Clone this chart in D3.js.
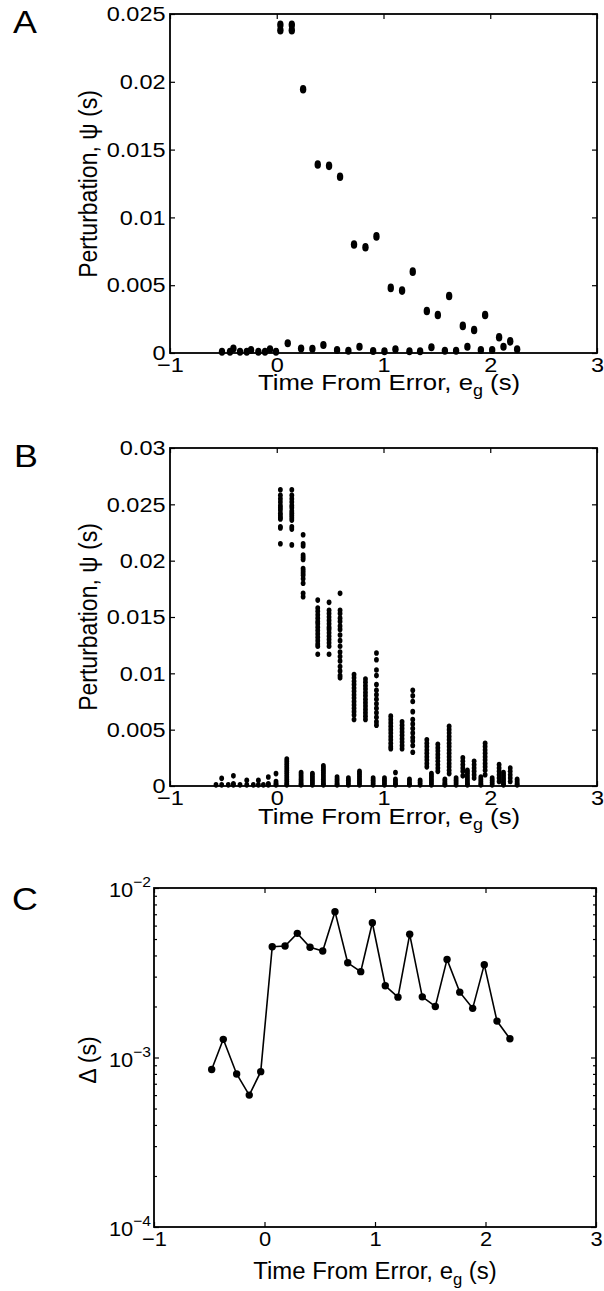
<!DOCTYPE html>
<html>
<head>
<meta charset="utf-8">
<script src="https://cdn.jsdelivr.net/npm/d3@7"></script>
<style>
  body { margin: 0; background: #fff; }
  text { font-family: "Liberation Sans", Arial, sans-serif; fill: #000; }
</style>
</head>
<body>
<script>
// times of the perturbation bins (s)
var aHighT = [0.034, 0.034, 0.141, 0.141, 0.247, 0.384, 0.49, 0.593, 0.724, 0.831, 0.934, 1.068, 1.174, 1.274, 1.406, 1.509, 1.615, 1.743, 1.849, 1.952, 2.083, 2.187];
var aHighV = [0.0238, 0.0242, 0.0238, 0.0242, 0.01945, 0.0139, 0.0138, 0.0130, 0.0080, 0.0078, 0.0086, 0.0048, 0.0046, 0.0060, 0.0031, 0.0028, 0.0042, 0.0020, 0.0017, 0.0028, 0.00116, 0.00086];
var aLowT = [-0.513, -0.438, -0.406, -0.344, -0.281, -0.241, -0.172, -0.11, -0.063, -0.007, 0.103, 0.228, 0.334, 0.437, 0.565, 0.671, 0.775, 0.903, 1.009, 1.112, 1.243, 1.343, 1.449, 1.575, 1.68, 1.786, 1.912, 2.018, 2.124, 2.252];
var aLowV = [0.0001, 0.0001, 0.00034, 0.0001, 0.0001, 0.00022, 0.0001, 0.0001, 0.00027, 0.0001, 0.00071, 0.00034, 0.00032, 0.00059, 0.00022, 0.00017, 0.00047, 0.00015, 0.00012, 0.00027, 0.00012, 0.00012, 0.00042, 0.00017, 0.00017, 0.00047, 0.00022, 0.00022, 0.00047, 0.00027];

// panel B: every column of samples
var bHighT = [0.034, 0.141, 0.247, 0.384, 0.49, 0.593, 0.724, 0.831, 0.934, 1.068, 1.174, 1.274, 1.406, 1.509, 1.615, 1.743, 1.849, 1.952, 2.083, 2.187];
var bHighV = [
  [0.0263, 0.0258, 0.0255, 0.0252, 0.0249, 0.0247, 0.0245, 0.0242, 0.0240, 0.0238, 0.0237, 0.0230, 0.0229, 0.0215],
  [0.0263, 0.0258, 0.0255, 0.0252, 0.0249, 0.0247, 0.0244, 0.0242, 0.0240, 0.0238, 0.0236, 0.0230, 0.0228, 0.0214],
  [0.0223, 0.0215, 0.0213, 0.0205, 0.0203, 0.0201, 0.0193, 0.0191, 0.0189, 0.0187, 0.0184, 0.0180, 0.0171, 0.0168],
  [0.0165, 0.0158, 0.0155, 0.0152, 0.0149, 0.0146, 0.0144, 0.0141, 0.0138, 0.0135, 0.0132, 0.0129, 0.0126, 0.0124, 0.0117],
  [0.0163, 0.0156, 0.0153, 0.0150, 0.0147, 0.0144, 0.0141, 0.0139, 0.0136, 0.0133, 0.0130, 0.0127, 0.0124, 0.0117],
  [0.0171, 0.0156, 0.0153, 0.0149, 0.0146, 0.0142, 0.0139, 0.0134, 0.0129, 0.0124, 0.0119, 0.0115, 0.0111, 0.0106, 0.0102, 0.0098, 0.0096],
  [0.0099, 0.0096, 0.0093, 0.0090, 0.0087, 0.0084, 0.0081, 0.0078, 0.0075, 0.0072, 0.0069, 0.0066, 0.0063, 0.0059],
  [0.0095, 0.0092, 0.0089, 0.0086, 0.0083, 0.0080, 0.0077, 0.0074, 0.0071, 0.0068, 0.0065, 0.0062, 0.0059],
  [0.0118, 0.0112, 0.0103, 0.0098, 0.0090, 0.0085, 0.0081, 0.0077, 0.0073, 0.0069, 0.0065, 0.0061, 0.0057, 0.0054],
  [0.0062, 0.0059, 0.0056, 0.0053, 0.0050, 0.0047, 0.0044, 0.0041, 0.0038, 0.0035, 0.0033],
  [0.0057, 0.0054, 0.0051, 0.0048, 0.0045, 0.0042, 0.0039, 0.0036, 0.0033],
  [0.0085, 0.0080, 0.0075, 0.0066, 0.0059, 0.0055, 0.0051, 0.0047, 0.0043, 0.0040, 0.0036, 0.0030],
  [0.0041, 0.0038, 0.0035, 0.0032, 0.0029, 0.0026, 0.0023, 0.0020, 0.0017],
  [0.0037, 0.0034, 0.0031, 0.0028, 0.0025, 0.0022, 0.0019, 0.0016, 0.0013],
  [0.0053, 0.0050, 0.0047, 0.0044, 0.0041, 0.0038, 0.0035, 0.0032, 0.0029, 0.0026, 0.0023, 0.0020, 0.0017, 0.0014, 0.0011],
  [0.0025, 0.0022, 0.0019, 0.0016, 0.0013, 0.0009],
  [0.0022, 0.0019, 0.0016, 0.0013, 0.0010, 0.0007],
  [0.0038, 0.0035, 0.0032, 0.0029, 0.0026, 0.0023, 0.0020, 0.0017, 0.0014, 0.0010],
  [0.0019, 0.0016, 0.0013, 0.0010, 0.0007, 0.0004],
  [0.0016, 0.0013, 0.0010, 0.0007, 0.0004]
];
var bLowT = [-0.569, -0.516, -0.454, -0.406, -0.344, -0.281, -0.219, -0.172, -0.125, -0.079, -0.007, 0.094, 0.228, 0.334, 0.437, 0.565, 0.671, 0.775, 0.903, 1.009, 1.112, 1.243, 1.343, 1.449, 1.575, 1.68, 1.786, 1.912, 2.018, 2.124, 2.252];
var bLowV = [
  [0.0001], [0.00068, 0.0001], [0.0001], [0.0009, 0.0002, 0.0001], [0.0001], [0.0005, 0.0001], [0.0001], [0.0005, 0.0001], [0.0001],
  [0.0008, 0.0002, 0.0001], [0.0011, 0.0004, 0.0002, 0.0001],
  [0.0024, 0.0022, 0.0020, 0.0018, 0.0016, 0.0014, 0.0012, 0.0010, 0.0008, 0.0006, 0.0004, 0.0002, 0.0001],
  [0.0012, 0.0010, 0.0008, 0.0006, 0.0004, 0.0002, 0.0001],
  [0.0011, 0.0009, 0.0007, 0.0005, 0.0003, 0.0001],
  [0.0018, 0.0016, 0.0014, 0.0012, 0.0010, 0.0008, 0.0006, 0.0004, 0.0002, 0.0001],
  [0.0008, 0.0006, 0.0004, 0.0002, 0.0001],
  [0.0007, 0.0005, 0.0003, 0.0001],
  [0.0013, 0.0011, 0.0009, 0.0007, 0.0005, 0.0003, 0.0001],
  [0.0007, 0.0005, 0.0003, 0.0001],
  [0.0007, 0.0005, 0.0003, 0.0001],
  [0.0012, 0.0006, 0.0004, 0.0002, 0.0001],
  [0.0006, 0.0004, 0.0002, 0.0001],
  [0.0005, 0.0003, 0.0001],
  [0.0011, 0.0009, 0.0007, 0.0005, 0.0003, 0.0001],
  [0.0006, 0.0004, 0.0002, 0.0001],
  [0.0007, 0.0005, 0.0003, 0.0001],
  [0.0014, 0.0012, 0.0010, 0.0008, 0.0006, 0.0004, 0.0002, 0.0001],
  [0.0008, 0.0006, 0.0004, 0.0002, 0.0001],
  [0.0007, 0.0005, 0.0003, 0.0001],
  [0.0012, 0.0010, 0.0008, 0.0006, 0.0004, 0.0002, 0.0001],
  [0.0006, 0.0004, 0.0002, 0.0001]
];

// panel C: spread per bin
var cT = [-0.478, -0.373, -0.252, -0.138, -0.034, 0.07, 0.186, 0.297, 0.412, 0.527, 0.638, 0.753, 0.871, 0.976, 1.093, 1.208, 1.314, 1.428, 1.546, 1.652, 1.767, 1.884, 1.989, 2.104, 2.221];
var cV = [8.5e-4, 1.28e-3, 8.0e-4, 6.0e-4, 8.25e-4, 4.5e-3, 4.55e-3, 5.4e-3, 4.47e-3, 4.25e-3, 7.25e-3, 3.62e-3, 3.21e-3, 6.24e-3, 2.65e-3, 2.27e-3, 5.33e-3, 2.28e-3, 2.0e-3, 3.79e-3, 2.43e-3, 1.95e-3, 3.53e-3, 1.64e-3, 1.29e-3];

var xTicks = [-1, 0, 1, 2, 3];
var aYTicks = [0, 0.005, 0.01, 0.015, 0.02, 0.025];
var bYTicks = [0, 0.005, 0.01, 0.015, 0.02, 0.025, 0.03];
var cYTicks = [1e-4, 1e-3, 1e-2];
var cYLabels = ['\u22124', '\u22123', '\u22122'];

var svg = d3.select('body').append('svg')
  .attr('width', 604).attr('height', 1291);

var fs = 21, lfs = 23;
var xFmt = function(d) { return d < 0 ? '\u2212' + Math.abs(d) : String(d); };
var yFmt = function(d) { return d === 0 ? '0' : String(+d.toFixed(3)); };

function frame(g, x, y, yTicks, yFormat, minor, sx) {
  var x0 = x.range()[0], x1 = x.range()[1], y0 = y.range()[0], y1 = y.range()[1];
  // ticks on all four sides, pointing inward
  g.append('g').attr('transform', 'translate(0,' + y0 + ')')
    .call(d3.axisBottom(x).tickValues(xTicks).tickSize(-5).tickPadding(4).tickFormat(xFmt));
  g.append('g').attr('transform', 'translate(0,' + y1 + ')')
    .call(d3.axisTop(x).tickValues(xTicks).tickSize(-5).tickFormat(''));
  g.append('g').attr('transform', 'translate(' + x0 + ',0)')
    .call(d3.axisLeft(y).tickValues(yTicks).tickSize(-5).tickPadding(4).tickFormat(yFormat || ''));
  g.append('g').attr('transform', 'translate(' + x1 + ',0)')
    .call(d3.axisRight(y).tickValues(yTicks).tickSize(-5).tickFormat(''));
  if (minor) {
    g.append('g').attr('transform', 'translate(' + x0 + ',0)')
      .call(d3.axisLeft(y).tickValues(minor).tickSize(-3).tickFormat(''));
    g.append('g').attr('transform', 'translate(' + x1 + ',0)')
      .call(d3.axisRight(y).tickValues(minor).tickSize(-3).tickFormat(''));
  }
  g.selectAll('.domain').remove();
  g.selectAll('g').attr('font-size', null).attr('font-family', null);
  g.selectAll('.tick line').attr('stroke', '#000').attr('stroke-width', 1.2);
  g.selectAll('.tick text').style('font-size', fs + 'px')
    .attr('fill', '#000').attr('transform', 'scale(' + sx + ',1)');
  g.append('rect').attr('x', x0).attr('y', y1).attr('width', x1 - x0).attr('height', y0 - y1)
    .attr('fill', 'none').attr('stroke', '#000').attr('stroke-width', 1.8);
}

function xLabel(g, cx, y, sx) {
  var t = g.append('text').attr('transform', 'translate(' + cx + ',' + y + ') scale(' + sx + ',1)')
    .attr('text-anchor', 'middle').style('font-size', lfs + 'px');
  t.append('tspan').text('Time From Error, e');
  t.append('tspan').attr('dy', 6).style('font-size', '16px').text('g');
  t.append('tspan').attr('dy', -6).text(' (s)');
}

function yLabel(g, x, cy, txt, sx) {
  g.append('text').attr('transform', 'translate(' + x + ',' + cy + ') scale(' + sx + ',1) rotate(-90)')
    .attr('text-anchor', 'middle').style('font-size', lfs + 'px').text(txt);
}

function letter(txt, x, y) {
  svg.append('text').attr('transform', 'translate(' + x + ',' + y + ') scale(1.12,1)')
    .style('font-size', '32px').text(txt);
}

// ---- A ----
var gA = svg.append('g');
var xA = d3.scaleLinear().domain([-1, 3]).range([170, 597]);
var yA = d3.scaleLinear().domain([0, 0.025]).range([353, 14]);
frame(gA, xA, yA, aYTicks, yFmt, null, 1.12);
gA.selectAll('.hi').data(d3.range(aHighT.length)).enter().append('ellipse')
  .attr('cx', function(i) { return xA(aHighT[i]); })
  .attr('cy', function(i) { return yA(aHighV[i]); })
  .attr('rx', 3.2).attr('ry', 4.3).attr('fill', '#000');
gA.selectAll('.lo').data(d3.range(aLowT.length)).enter().append('ellipse')
  .attr('cx', function(i) { return xA(aLowT[i]); })
  .attr('cy', function(i) { return yA(aLowV[i]); })
  .attr('rx', 3.2).attr('ry', 4).attr('fill', '#000');
xLabel(gA, 389, 390, 1.12);
yLabel(gA, 97, 184, 'Perturbation, \u03C8 (s)', 1.12);
letter('A', 13, 33);

// ---- B ----
var gB = svg.append('g');
var xB = d3.scaleLinear().domain([-1, 3]).range([170, 597]);
var yB = d3.scaleLinear().domain([0, 0.03]).range([786, 448]);
frame(gB, xB, yB, bYTicks, yFmt, null, 1.12);
function flat(ts, vs) {
  var out = [];
  ts.forEach(function(t, i) { vs[i].forEach(function(v) { out.push([t, v]); }); });
  return out;
}
var bPts = flat(bHighT, bHighV).concat(flat(bLowT, bLowV));
gB.selectAll('.pt').data(bPts).enter().append('ellipse')
  .attr('cx', function(d) { return xB(d[0]); })
  .attr('cy', function(d) { return yB(d[1]); })
  .attr('rx', 2.4).attr('ry', 2.8).attr('fill', '#000');
xLabel(gB, 389, 824, 1.12);
yLabel(gB, 97, 617, 'Perturbation, \u03C8 (s)', 1.12);
letter('B', 14, 467);

// ---- C ----
var gC = svg.append('g');
var xC = d3.scaleLinear().domain([-1, 3]).range([154, 596]);
var yC = d3.scaleLog().domain([1e-4, 1e-2]).range([1227, 888]);
var minorC = [];
[1e-4, 1e-3].forEach(function(dec) { for (var k = 2; k <= 9; k++) minorC.push(dec * k); });
frame(gC, xC, yC, cYTicks, null, minorC, 1.04);
gC.selectAll('.cyl').data(cYTicks).enter().append('text')
  .attr('transform', function(d) { return 'translate(151,' + (yC(d) + 9) + ') scale(1.04,1)'; })
  .attr('text-anchor', 'end').style('font-size', fs + 'px')
  .each(function(d, i) {
    var t = d3.select(this);
    t.append('tspan').text('10');
    t.append('tspan').attr('dy', -10).style('font-size', '15px').text(cYLabels[i]);
  });
var line = d3.line().x(function(i) { return xC(cT[i]); }).y(function(i) { return yC(cV[i]); });
gC.append('path').datum(d3.range(cT.length)).attr('d', line)
  .attr('fill', 'none').attr('stroke', '#000').attr('stroke-width', 1.6);
gC.selectAll('.cp').data(d3.range(cT.length)).enter().append('circle')
  .attr('cx', function(i) { return xC(cT[i]); })
  .attr('cy', function(i) { return yC(cV[i]); })
  .attr('r', 3.7).attr('fill', '#000');
xLabel(gC, 375, 1279, 1.04);
yLabel(gC, 96, 1060, '\u0394 (s)', 1.04);
letter('C', 12, 910);
</script>
</body>
</html>
